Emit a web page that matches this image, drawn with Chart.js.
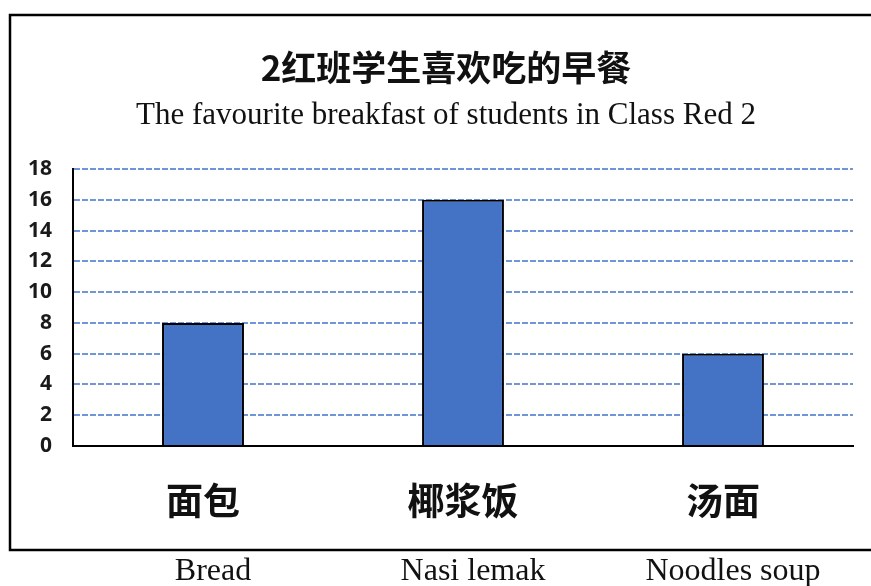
<!DOCTYPE html>
<html>
<head>
<meta charset="utf-8">
<script src="https://cdn.jsdelivr.net/npm/chart.js@4/dist/chart.umd.min.js"></script>
<style>
  html, body { margin: 0; padding: 0; background: #fff; }
  #wrap { width: 871px; height: 586px; position: relative; }
</style>
</head>
<body>
<div id="wrap"><canvas id="c" width="871" height="586"></canvas></div>
<script>
const chineseCategories = ['面包', '椰浆饭', '汤面'];
const englishCategories = ['Bread', 'Nasi lemak', 'Noodles soup'];
const studentCounts = [8, 16, 6];
const yTicks = [0, 2, 4, 6, 8, 10, 12, 14, 16, 18];
const titleText = '2红班学生喜欢吃的早餐';
const subtitleText = 'The favourite breakfast of students in Class Red 2';

const frame = {
  id: 'frame',
  afterDraw(chart) {
    const ctx = chart.ctx;
    ctx.save();
    ctx.strokeStyle = '#000';
    ctx.lineWidth = 2.5;
    ctx.beginPath();
    ctx.moveTo(871, 15); ctx.lineTo(10, 15); ctx.lineTo(10, 550); ctx.lineTo(871, 550);
    ctx.stroke();
    ctx.restore();
  }
};

new Chart(document.getElementById('c'), {
  type: 'bar',
  data: {
    labels: chineseCategories,
    datasets: [{
      data: studentCounts,
      backgroundColor: '#4472C4',
      borderColor: '#000',
      borderWidth: 2,
      barPercentage: 0.315,
      categoryPercentage: 1
    }]
  },
  options: {
    responsive: false,
    animation: false,
    layout: { padding: { left: 21, right: 0, top: 0, bottom: 0 } },
    plugins: {
      legend: { display: false },
      tooltip: { enabled: false },
      title: {
        display: true,
        text: titleText,
        color: '#111',
        font: { family: '"Noto Sans CJK SC"', size: 35, weight: 'bold', lineHeight: 1.2 },
        padding: { top: 47, bottom: 8.4 }
      },
      subtitle: {
        display: true,
        text: subtitleText,
        color: '#111',
        font: { family: '"Liberation Serif"', size: 31, lineHeight: 1.2 },
        padding: { top: 0, bottom: 34.4 }
      }
    },
    scales: {
      x: {
        type: 'category',
        position: 'bottom',
        weight: 0,
        grid: { display: false, drawTicks: false },
        border: { display: true, color: '#000', width: 2 },
        ticks: {
          color: '#111',
          padding: 32.4,
          maxRotation: 0,
          font: { family: '"Noto Sans CJK SC"', size: 37, weight: 'bold', lineHeight: 1.2 }
        },
        afterFit(s) { s.height = 76; s.paddingLeft = 0; s.paddingRight = 0; }
      },
      x2: {
        type: 'category',
        position: 'bottom',
        weight: 1,
        labels: englishCategories,
        grid: { display: false, drawTicks: false },
        border: { display: false },
        ticks: {
          color: '#111',
          padding: 30.3,
          labelOffset: 10,
          maxRotation: 0,
          font: { family: '"Liberation Serif"', size: 32, lineHeight: 1.2 }
        },
        afterFit(s) { s.height = 64; s.paddingLeft = 0; s.paddingRight = 0; }
      },
      y: {
        min: 0,
        max: 18,
        position: 'left',
        afterBuildTicks(s) { s.ticks = yTicks.map(v => ({ value: v })); },
        grid: { color: '#7096d8', lineWidth: 2, drawTicks: false },
        border: { display: true, color: '#000', width: 2, dash: [6, 2] },
        ticks: {
          color: '#1a1a1a',
          padding: 21,
          font: { family: '"Open Sans"', size: 21, weight: 'bold', lineHeight: 1.2 }
        },
        afterFit(s) { s.width = 52; s.paddingTop = 0; s.paddingBottom = 0; }
      },
      y2: {
        position: 'right',
        display: true,
        grid: { display: false, drawTicks: false },
        border: { display: false },
        ticks: { display: false },
        afterFit(s) { s.width = 18; s.paddingTop = 0; s.paddingBottom = 0; }
      }
    }
  },
  plugins: [frame]
});
</script>
</body>
</html>
